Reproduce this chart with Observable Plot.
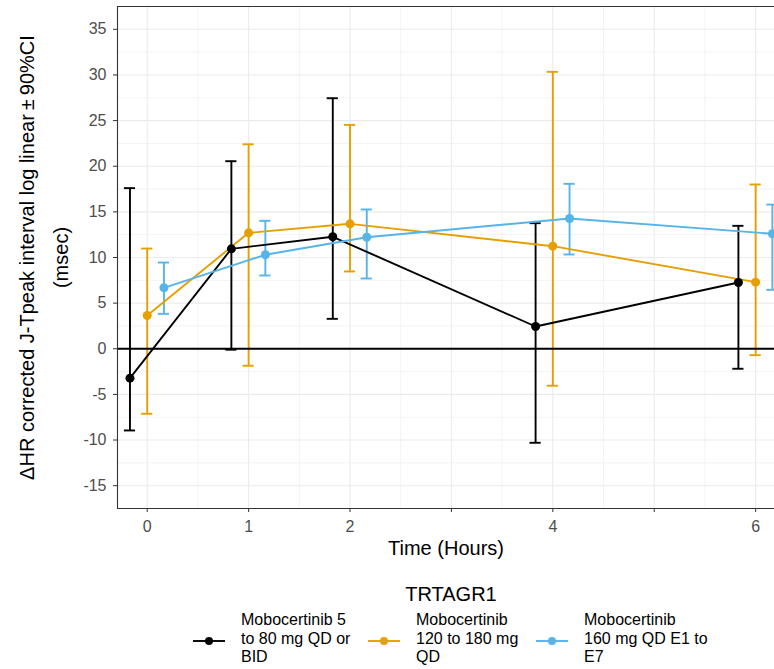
<!DOCTYPE html>
<html>
<head>
<meta charset="utf-8">
<script src="https://cdn.jsdelivr.net/npm/d3@7"></script>
<script src="https://cdn.jsdelivr.net/npm/@observablehq/plot@0.6"></script>
<style>
  html, body { margin: 0; padding: 0; background: #fff; overflow: hidden; }
  #wrap { position: relative; width: 774px; height: 669px; font-family: "Liberation Sans", Arial, sans-serif; }
  #chart { position: absolute; left: 0; top: 0; }
  .legend-title { position: absolute; left: 0; width: 900px; top: 583px; text-align: center; font-size: 20px; color: #000; }
  .item { position: absolute; top: 611px; }
  .item svg { position: absolute; left: 0; top: 22px; }
  .item .lab { position: absolute; top: 0; font-size: 16px; line-height: 18.5px; color: #000; white-space: nowrap; }
</style>
</head>
<body>
<div id="wrap"><div id="chart"></div><div id="legend"></div></div>
<script>
// ---- data ----
const times = [0, 1, 2, 4, 6];
const groups = [
  "Mobocertinib 5 to 80 mg QD or BID",
  "Mobocertinib 120 to 180 mg QD",
  "Mobocertinib 160 mg QD E1 to E7"
];
const groupLabelLines = [
  ["Mobocertinib 5", "to 80 mg QD or", "BID"],
  ["Mobocertinib", "120 to 180 mg", "QD"],
  ["Mobocertinib", "160 mg QD E1 to", "E7"]
];
const estBlack  = [-3.22, 10.95, 12.27, 2.44, 7.26];
const loBlack   = [-8.95, -0.1, 3.28, -10.3, -2.19];
const hiBlack   = [17.6, 20.55, 27.45, 13.76, 13.47];
const estOrange = [3.65, 12.7, 13.69, 11.24, 7.3];
const loOrange  = [-7.12, -1.86, 8.47, -4.05, -0.7];
const hiOrange  = [10.98, 22.4, 24.53, 30.34, 18.0];
const estBlue   = [6.68, 10.3, 12.22, 14.27, 12.6];
const loBlue    = [3.83, 8.03, 7.7, 10.33, 6.46];
const hiBlue    = [9.45, 14.02, 15.26, 18.07, 15.8];
const xTicks = [0, 1, 2, 3, 4, 5, 6];
const xTickLabels = ["0", "1", "2", "", "4", "", "6"];
const yTicks = [-15, -10, -5, 0, 5, 10, 15, 20, 25, 30, 35];
const yTickLabels = ["-15", "-10", "-5", "0", "5", "10", "15", "20", "25", "30", "35"];
const yTitle = "\u0394HR corrected J-Tpeak interval log linear\u2009\u00b1\u200990%CI";
const yTitle2 = "(msec)";
const xTitle = "Time (Hours)";
const legendTitle = "TRTAGR1";

// ---- styling / layout (not data) ----
const colors = ["#000000", "#E69F00", "#56B4E9"];
const dodge = [-0.17, 0, 0.165];
const xDomain = [-0.293, 6.186];
const yDomain = [-17.5, 37.5];
const capHalf = 0.055;

const series = [
  [estBlack, loBlack, hiBlack],
  [estOrange, loOrange, hiOrange],
  [estBlue, loBlue, hiBlue]
];
const rows = [];
series.forEach(([est, lo, hi], g) => {
  times.forEach((t, i) => {
    rows.push({group: groups[g], x: t + dodge[g], y: est[i], lo: lo[i], hi: hi[i]});
  });
});

const xMinor = d3.range(0.5, 6, 1);
const yMinor = d3.range(-12.5, 35, 5);
const grid = "#EBEBEB";
const sw = 1.9;

const chart = Plot.plot({
  width: 774,
  height: 570,
  marginLeft: 117,
  marginRight: 0,
  marginTop: 6,
  marginBottom: 62,
  style: {fontFamily: "'Liberation Sans', Arial, sans-serif", background: "#fff", overflow: "visible"},
  x: {domain: xDomain, label: null},
  y: {domain: yDomain, label: null},
  color: {domain: groups, range: colors},
  marks: [
    Plot.ruleX(xMinor, {stroke: grid, strokeWidth: 0.6}),
    Plot.ruleY(yMinor, {stroke: grid, strokeWidth: 0.6}),
    Plot.ruleX(xTicks, {stroke: grid, strokeWidth: 1.1}),
    Plot.ruleY(yTicks, {stroke: grid, strokeWidth: 1.1}),
    Plot.ruleX(rows, {x: "x", y1: "lo", y2: "hi", stroke: "group", strokeWidth: sw}),
    Plot.ruleY(rows, {y: "hi", x1: d => d.x - capHalf, x2: d => d.x + capHalf, stroke: "group", strokeWidth: sw}),
    Plot.ruleY(rows, {y: "lo", x1: d => d.x - capHalf, x2: d => d.x + capHalf, stroke: "group", strokeWidth: sw}),
    Plot.line(rows, {x: "x", y: "y", z: "group", stroke: "group", strokeWidth: sw}),
    Plot.dot(rows, {x: "x", y: "y", fill: "group", r: 4.5}),
    Plot.ruleY([0], {stroke: "#000", strokeWidth: 1.9}),
    Plot.ruleY([yDomain[1]], {stroke: "#333333", strokeWidth: 1.1}),
    Plot.ruleY([yDomain[0]], {stroke: "#333333", strokeWidth: 1.1}),
    Plot.ruleX([xDomain[0]], {stroke: "#333333", strokeWidth: 1.1}),
    Plot.axisX({ticks: xTicks, tickFormat: d => xTickLabels[xTicks.indexOf(d)], tickSize: 4, tickPadding: 8, fontSize: 16, fill: "#4D4D4D", stroke: "#333333", label: null}),
    Plot.axisY({ticks: yTicks, tickFormat: d => yTickLabels[yTicks.indexOf(d)], tickSize: 4, tickPadding: 7, fontSize: 16, fill: "#4D4D4D", stroke: "#333333", label: null}),
    Plot.text([xTitle], {frameAnchor: "bottom", dy: 40, lineAnchor: "middle", fontSize: 20, fill: "#000"}),
    Plot.text([yTitle], {frameAnchor: "left", dx: -90, rotate: -90, lineAnchor: "middle", textAnchor: "middle", fontSize: 20, fill: "#000"}),
    Plot.text([yTitle2], {frameAnchor: "left", dx: -56, rotate: -90, lineAnchor: "middle", textAnchor: "middle", fontSize: 20, fill: "#000"})
  ]
});
document.getElementById("chart").appendChild(chart);

// ---- legend ----
const legend = document.getElementById("legend");
const title = document.createElement("div");
title.className = "legend-title";
title.textContent = legendTitle;
title.style.left = "0px";
title.style.width = "902px";
legend.appendChild(title);
const keyLeft = [193, 368, 536];
groups.forEach((g, i) => {
  const item = document.createElement("div");
  item.className = "item";
  item.style.left = keyLeft[i] + "px";
  item.innerHTML = `<svg width="32" height="16"><line x1="0" x2="32" y1="8" y2="8" stroke="${colors[i]}" stroke-width="1.9"/><circle cx="16" cy="8" r="4" fill="${colors[i]}"/></svg>` +
    `<div class="lab" style="left:48px">${groupLabelLines[i].join("<br>")}</div>`;
  legend.appendChild(item);
});
</script>
</body>
</html>
